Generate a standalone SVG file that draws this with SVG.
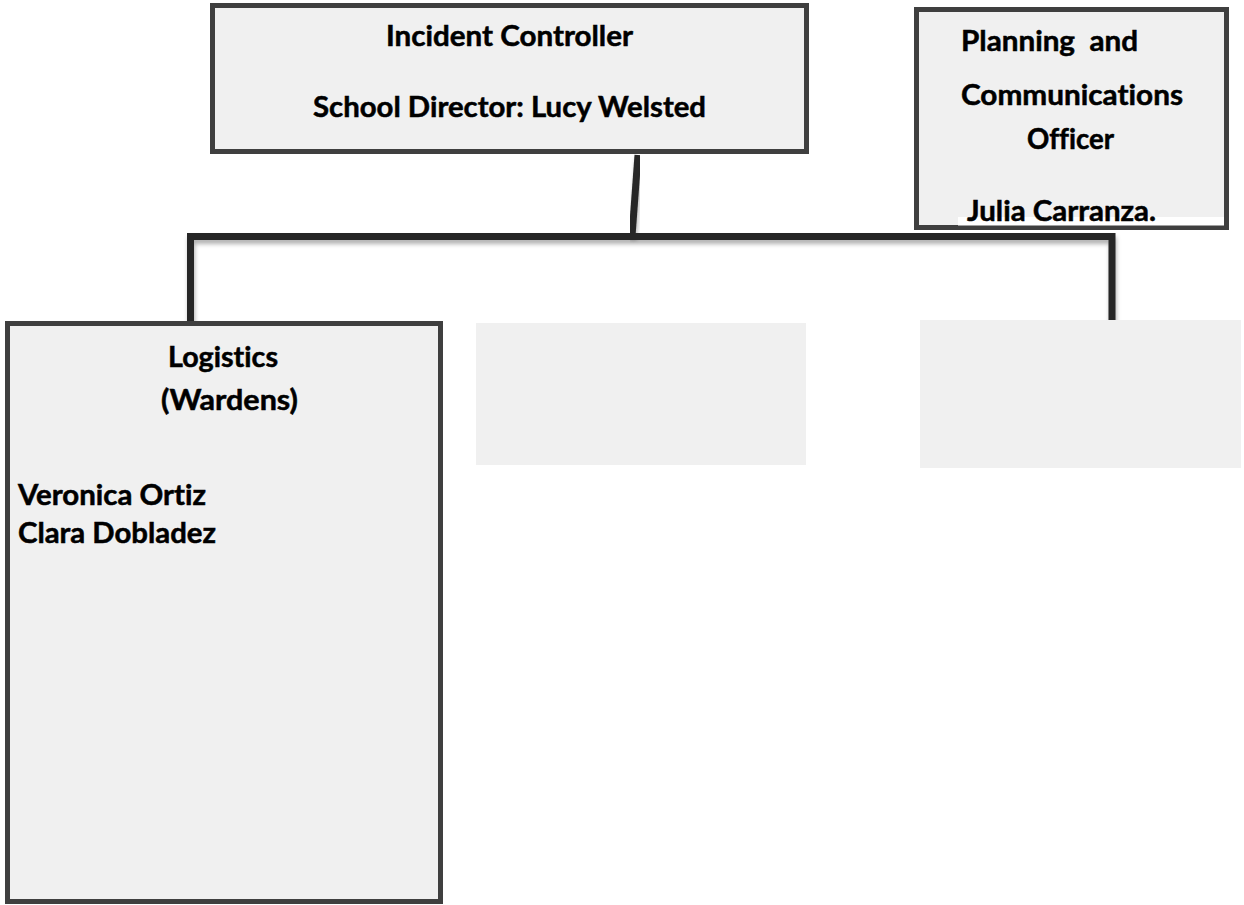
<svg xmlns="http://www.w3.org/2000/svg" width="1244" height="905" viewBox="0 0 1244 905">
<defs>
<filter id="sh" x="-20%" y="-20%" width="140%" height="140%">
<feDropShadow dx="1" dy="4" stdDeviation="2" flood-color="#000" flood-opacity="0.3"/>
</filter>
<filter id="blur" x="-50%" y="-10%" width="200%" height="120%">
<feGaussianBlur stdDeviation="1.5"/>
</filter>
</defs>
<style>
.box{fill:#f0f0f0;stroke:#3f3f3f;stroke-width:5}
.plain{fill:#f0f0f0}
.lbl{font-family:Lato,"Liberation Sans",sans-serif;font-weight:bold;font-size:28px;fill:#000;stroke:#000;stroke-width:0.5;white-space:pre;font-variant-ligatures:none;font-feature-settings:"liga" 0}
.con{stroke:#262626;stroke-width:7;fill:none}
</style>
<rect width="1244" height="905" fill="#fff"/>
<g id="connectors">
<line class="con" x1="809" y1="87" x2="914" y2="87" filter="url(#sh)"/>
<line class="con" x1="638" y1="155" x2="632" y2="236" filter="url(#sh)"/>
<path class="con" d="M190.5,323 V236.5 H1112 V322" stroke-linejoin="miter" filter="url(#sh)"/>
<line x1="638" y1="241" x2="638" y2="325" stroke="#b4b4b4" stroke-width="6" filter="url(#blur)"/>
</g>
<g id="incident-controller">
<rect class="box" x="212.5" y="5.5" width="594" height="146"/>
<text class="lbl" x="386" y="46" textLength="247" lengthAdjust="spacingAndGlyphs">Incident Controller</text>
<text class="lbl" x="313" y="117" textLength="393" lengthAdjust="spacingAndGlyphs">School Director: Lucy Welsted</text>
</g>
<g id="planning">
<rect class="box" x="916.5" y="9.5" width="310" height="218"/>
<rect x="958" y="217" width="266" height="8.5" fill="#fff"/>
<text class="lbl" x="961" y="51" textLength="177" lengthAdjust="spacingAndGlyphs">Planning  and</text>
<text class="lbl" x="961" y="105" textLength="222" lengthAdjust="spacingAndGlyphs">Communications</text>
<text class="lbl" x="1027" y="149" textLength="87" lengthAdjust="spacingAndGlyphs">Officer</text>
<text class="lbl" x="967" y="221" textLength="189" lengthAdjust="spacingAndGlyphs">Julia Carranza.</text>
</g>
<g id="logistics">
<rect class="box" x="7.5" y="323.5" width="433" height="578"/>
<text class="lbl" x="168" y="367" textLength="110" lengthAdjust="spacingAndGlyphs">Logistics</text>
<text class="lbl" x="161" y="410" textLength="137" lengthAdjust="spacingAndGlyphs">(Wardens)</text>
<text class="lbl" x="18" y="505" textLength="188" lengthAdjust="spacingAndGlyphs">Veronica Ortiz</text>
<text class="lbl" x="18" y="543" textLength="198" lengthAdjust="spacingAndGlyphs">Clara Dobladez</text>
</g>
<g id="empty-middle">
<rect class="plain" x="476" y="323" width="330" height="142"/>
</g>
<g id="empty-right">
<rect class="plain" x="920" y="320" width="321" height="148"/>
</g>
</svg>
